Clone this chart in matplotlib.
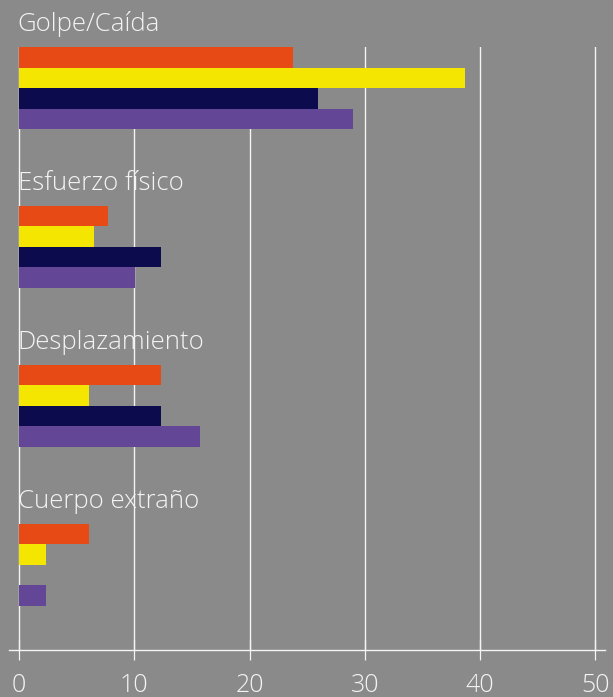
import matplotlib
matplotlib.use("Agg")
import matplotlib.pyplot as plt
import numpy as np

categories = ["Golpe/Caída", "Esfuerzo físico", "Desplazamiento", "Cuerpo extraño"]
series_a = [23.8, 7.7, 12.3, 6.1]   # orange
series_b = [38.7, 6.5, 6.1, 2.3]    # yellow
series_c = [25.9, 12.3, 12.3, 0.0]  # navy
series_d = [29.0, 10.1, 15.7, 2.3]  # purple
x_ticks = [0, 10, 20, 30, 40, 50]

colors = ["#E84A16", "#F4E600", "#0C0B4E", "#634696"]
bg = "#8a8a8a"
fg = "#f4f4f4"

plt.rcParams['font.family'] = ['Open Sans', 'DejaVu Sans']

W, H = 613, 697
fig = plt.figure(figsize=(W / 100, H / 100), dpi=100)
fig.patch.set_facecolor(bg)

ax_left_px, ax_right_px = 8.6, 605
ax_top_px, ax_bot_px = 47, 650
ax = fig.add_axes([ax_left_px / W, 1 - ax_bot_px / H,
                   (ax_right_px - ax_left_px) / W, (ax_bot_px - ax_top_px) / H])
ax.set_facecolor(bg)

px_per_unit = 11.53
x0_px = 19.0
ax.set_xlim((ax_left_px - x0_px) / px_per_unit, (ax_right_px - x0_px) / px_per_unit)

bar_px = 20.5
group_px = 158.9
ymax = (ax_bot_px - ax_top_px) / bar_px
ax.set_ylim(ymax, 0)

all_series = [series_a, series_b, series_c, series_d]
for gi, cat in enumerate(categories):
    gtop = gi * group_px / bar_px
    for si, s in enumerate(all_series):
        ax.barh(gtop + si + 0.5, s[gi], height=1.0, left=0, color=colors[si],
                linewidth=0, zorder=3)
    ax.text(-0.1, gtop - 16 / bar_px, cat, ha='left', va='baseline',
            fontsize=18.5, color=fg, fontweight='light', clip_on=False)

ax.set_xticks(x_ticks)
ax.set_xticklabels([str(t) for t in x_ticks])
ax.set_yticks([])
ax.grid(axis='x', color='#f4f4f4', linewidth=1.0, zorder=1)
ax.tick_params(axis='x', direction='inout', length=15, width=0.9, colors=fg,
               labelsize=18, pad=9)
for lab in ax.get_xticklabels():
    lab.set_fontweight('light')
for sp in ['top', 'left', 'right']:
    ax.spines[sp].set_visible(False)
ax.spines['bottom'].set_color(fg)
ax.spines['bottom'].set_linewidth(1.0)

fig.savefig("out.png", dpi=100, facecolor=bg)
